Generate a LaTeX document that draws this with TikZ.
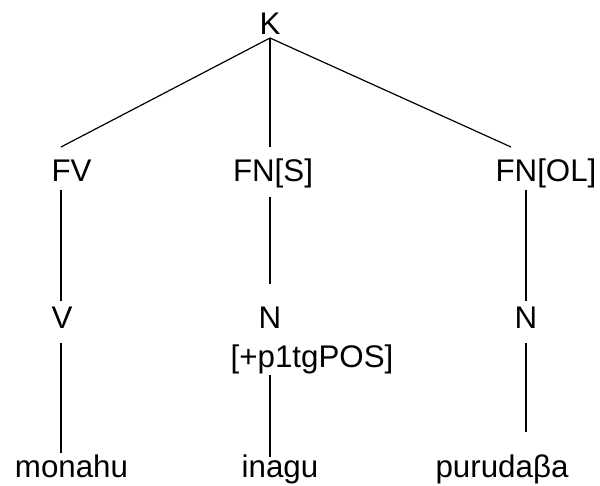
\documentclass[tikz,border=0pt]{standalone}
\usepackage{fontspec}
\setmainfont{Liberation Sans}
\usetikzlibrary{calc}
\begin{document}
\begin{tikzpicture}[x=1pt,y=-1pt,
  lbl/.style={anchor=base,inner sep=0pt,outer sep=0pt,font=\fontsize{31.3}{36}\selectfont},
  edge/.style={draw=black,line width=1.2pt}]
\useasboundingbox (0,0) rectangle (600,486);
\node[lbl] (K) at (270,35) {K};
\node[lbl] (FV) at (71.5,182) {FV};
\node[lbl] (FNS) at (273,182) {FN[S]};
\node[lbl] (FNOL) at (546,182) {FN[OL]};
\node[lbl] (V) at (62,329) {V};
\node[lbl] (N2) at (270,329) {N};
\node[lbl] (feat) at (312,368) {[+p1tgPOS]};
\node[lbl] (N3) at (526,329) {N};
\node[lbl] (mon) at (71.5,477) {monahu};
\node[lbl] (ina) at (280,477) {inagu};
\node[lbl] (pur) at (502,477) {purudaβa};
\draw[edge] ($(K.base)+(0,3)$) -- ($(FV.base)+(-10.5,-35)$);
\draw[edge] ($(K.base)+(0,3)$) -- ($(FNS.base)+(-3,-35)$);
\draw[edge] ($(K.base)+(0,3)$) -- ($(FNOL.base)+(-35,-35)$);
\draw[edge] ($(FV.base)+(-10.5,8)$) -- ($(V.base)+(-1,-28)$);
\draw[edge] ($(FNS.base)+(-3,15)$) -- ($(N2.base)+(0,-45)$);
\draw[edge] ($(FNOL.base)+(-20,8)$) -- ($(N3.base)+(0,-28)$);
\draw[edge] ($(V.base)+(-1,14)$) -- ($(mon.base)+(-10.5,-24)$);
\draw[edge] ($(feat.base)+(-42,7)$) -- ($(ina.base)+(-10,-20)$);
\draw[edge] ($(N3.base)+(0,14)$) -- ($(pur.base)+(24,-45)$);
\end{tikzpicture}
\end{document}
